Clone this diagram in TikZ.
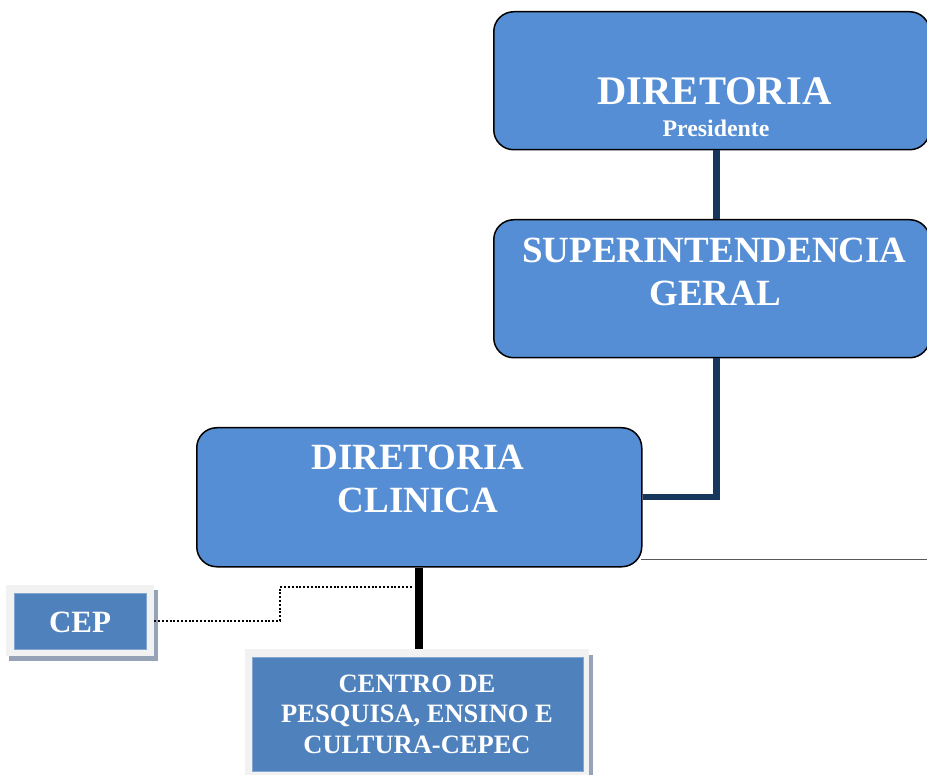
\documentclass[tikz,border=0pt]{standalone}
\usepackage{fontspec}
\setmainfont{Liberation Serif}
\definecolor{boxblue}{RGB}{85,142,213}
\definecolor{cepblue}{RGB}{79,129,189}
\definecolor{navyline}{RGB}{23,54,93}
\definecolor{framegray}{RGB}{242,242,242}
\definecolor{shadowc}{RGB}{150,162,182}
\begin{document}
\begin{tikzpicture}[x=1pt,y=-1pt,
  rbox/.style={draw=black,line width=1.5pt,fill=boxblue,rounded corners=20pt,inner sep=0pt,anchor=north west},
  frame/.style={fill=framegray,inner sep=0pt,anchor=north west},
  inbox/.style={fill=cepblue,draw=cepblue!70!white,line width=0.6pt,inner sep=0pt,anchor=north west},
  txt/.style={text=white,font=\bfseries,anchor=base,inner sep=0pt},
  navy/.style={draw=navyline,line width=6.5pt},
  dotline/.style={draw=black,line width=2.2pt,dash pattern=on 2pt off 1.8pt}
]
\useasboundingbox (0,0) rectangle (927,775);
% boxes
\node[rbox,minimum width=436pt,minimum height=138pt] (dir) at (493,11) {};
\node[rbox,minimum width=436pt,minimum height=138pt] (sup) at (493,219) {};
\node[rbox,minimum width=445pt,minimum height=139pt] (clin) at (196,427) {};
% shadows
\fill[shadowc] (154,590) rectangle (157.5,660.5);
\fill[shadowc] (9,656) rectangle (157.5,660.5);
\fill[shadowc] (589,655) rectangle (593,775);
\node[frame,minimum width=148pt,minimum height=71pt] (cep) at (6,585) {};
\node[inbox,minimum width=132pt,minimum height=56pt] (cepin) at (14,593) {};
\node[frame,minimum width=344pt,minimum height=130pt] (cepec) at (245,649) {};
\node[inbox,minimum width=331pt,minimum height=114pt] (cepecin) at (252,657) {};
% texts
\node[txt,font=\bfseries\fontsize{40.6}{44}\selectfont] (t1) at (714.5,105) {DIRETORIA};
\node[txt,font=\bfseries\fontsize{23.8}{26}\selectfont] (t2) at (716,137) {Presidente};
\node[txt,font=\bfseries\fontsize{37}{42}\selectfont] (t3) at (714.5,263) {SUPERINTENDENCIA};
\node[txt,font=\bfseries\fontsize{37}{42}\selectfont] (t4) at (715,306) {GERAL};
\node[txt,font=\bfseries\fontsize{37}{42}\selectfont] (t5) at (418,470) {DIRETORIA};
\node[txt,font=\bfseries\fontsize{37}{42}\selectfont] (t6) at (418,513) {CLINICA};
\node[txt,font=\bfseries\fontsize{31}{34}\selectfont] (t7) at (80,632) {CEP};
\node[txt,font=\bfseries\fontsize{26.5}{30}\selectfont] (t8) at (417,692) {CENTRO DE};
\node[txt,font=\bfseries\fontsize{26.5}{30}\selectfont] (t9) at (417,722) {PESQUISA, ENSINO E};
\node[txt,font=\bfseries\fontsize{26.5}{30}\selectfont] (t10) at (417,753) {CULTURA-CEPEC};
% connectors
\coordinate (g1) at (641,559);
\coordinate (g2) at (927,559);
\draw[draw=black!65,line width=0.8pt] (g1) -- (g2);
\draw[navy] ([xshift=4.5pt]dir.south) -- ([xshift=4.5pt]sup.north);
\draw[navy] ([xshift=4.5pt]sup.south) |- (clin.east);
\draw[draw=black,line width=8pt] (clin.south) -- (clin.south |- cepec.north);
\coordinate (dend) at (412,587);
\draw[dotline] (cep.east) -| (280,587) -- (dend);
\end{tikzpicture}
\end{document}
